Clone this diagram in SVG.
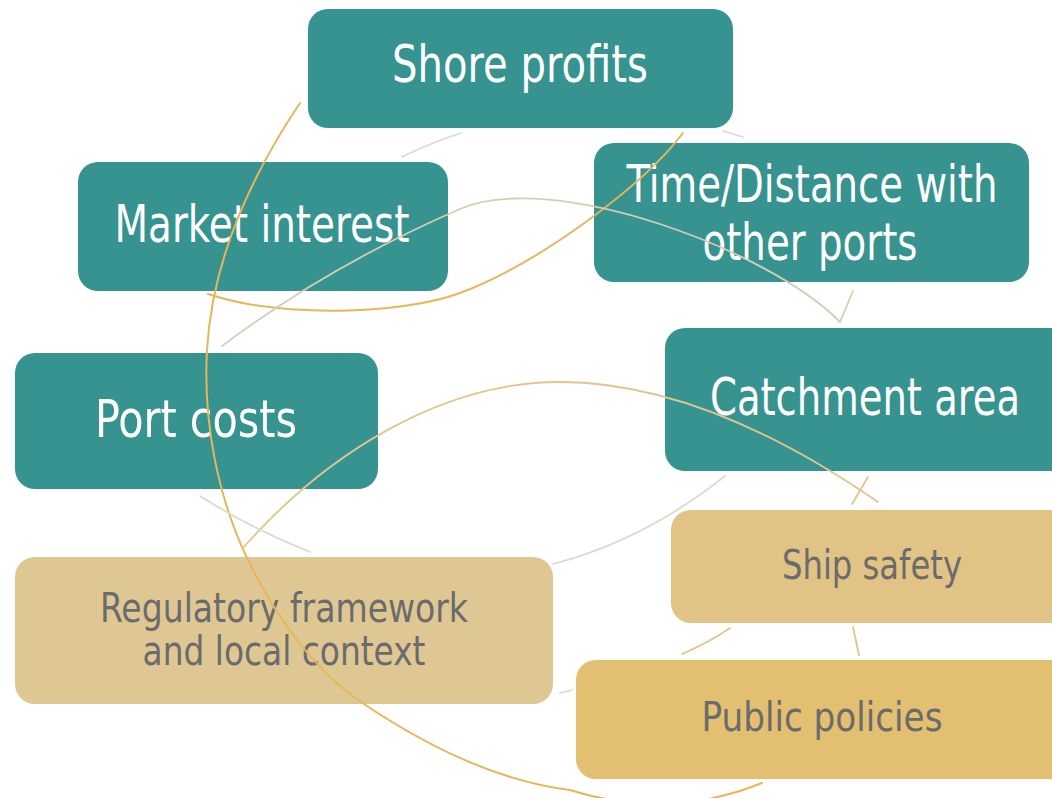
<svg xmlns="http://www.w3.org/2000/svg" width="1052" height="798" viewBox="0 0 1052 798">
  <style>
    .teal { fill: #36938f; }
    .sand { fill: #dfc794; }
    .sand2 { fill: #e0c385; }
    .gold { fill: #e3bf72; }
    .lt { font-family: 'Liberation Sans Narrow', 'DejaVu Sans Condensed', 'Liberation Sans', sans-serif; font-size: 51px; fill: #ffffff; text-anchor: middle; }
    .dk { font-family: 'Liberation Sans Narrow', 'DejaVu Sans Condensed', 'Liberation Sans', sans-serif; font-size: 41px; fill: #6b6b6b; text-anchor: middle; }
    .c { fill: none; stroke-linecap: round; }
    .orange { stroke: #e6b65a; stroke-width: 2; }
    .tan { stroke: #e0c58e; stroke-width: 1.8; }
    .beige { stroke: #d8ccb6; stroke-width: 1.8; }
    .grey { stroke: #dcd8d2; stroke-width: 1.8; }
  </style>
  <rect width="1052" height="798" fill="#ffffff"/>

  <g id="shore-profits">
    <rect class="teal" x="308" y="9" width="425" height="119" rx="20"/>
    <text class="lt" x="520" y="82" textLength="256" lengthAdjust="spacingAndGlyphs">Shore profits</text>
  </g>
  <g id="time-distance">
    <rect class="teal" x="594" y="143" width="435" height="139" rx="20"/>
    <text class="lt" x="812" y="202" textLength="371" lengthAdjust="spacingAndGlyphs">Time/Distance with</text>
    <text class="lt" x="810" y="260" textLength="215" lengthAdjust="spacingAndGlyphs">other ports</text>
  </g>
  <g id="market-interest">
    <rect class="teal" x="78" y="162" width="370" height="129" rx="20"/>
    <text class="lt" x="262" y="242" textLength="295" lengthAdjust="spacingAndGlyphs">Market interest</text>
  </g>
  <g id="port-costs">
    <rect class="teal" x="15" y="353" width="363" height="136" rx="20"/>
    <text class="lt" x="196" y="437" textLength="202" lengthAdjust="spacingAndGlyphs">Port costs</text>
  </g>
  <g id="catchment-area">
    <rect class="teal" x="665" y="328" width="420" height="143" rx="20"/>
    <text class="lt" x="865" y="415" textLength="310" lengthAdjust="spacingAndGlyphs">Catchment area</text>
  </g>
  <g id="regulatory-framework">
    <rect class="sand" x="15" y="557" width="538" height="147" rx="20"/>
    <text class="dk" x="284" y="622" textLength="368" lengthAdjust="spacingAndGlyphs">Regulatory framework</text>
    <text class="dk" x="284" y="665" textLength="283" lengthAdjust="spacingAndGlyphs">and local context</text>
  </g>
  <g id="ship-safety">
    <rect class="sand2" x="671" y="510" width="420" height="113" rx="20"/>
    <text class="dk" x="872" y="579" textLength="180" lengthAdjust="spacingAndGlyphs">Ship safety</text>
  </g>
  <g id="public-policies">
    <rect class="gold" x="576" y="660" width="500" height="119" rx="20"/>
    <text class="dk" x="822" y="731" textLength="241" lengthAdjust="spacingAndGlyphs">Public policies</text>
  </g>

  <g id="connectors">
    <!-- large sweep from Shore profits round the left side to Public policies -->
    <path class="c orange" d="M300,103 C251,176 212,262 207,350 C203,420 217,495 247,558 C274,614 313,670 364,704 C425,745 497,781 570,790 C640,812 705,806 762,783"/>
    <!-- Market interest to Shore profits -->
    <path class="c orange" d="M208,294 C280,318 400,315 460,293 C538,264 643,186 683,133"/>
    <!-- Port costs to Catchment area -->
    <path class="c beige" d="M222,346 C294,292 377,245 460,209 C552,169 770,250 840,322"/>
    <path class="c beige" d="M853,291 L840,322"/>
    <!-- Regulatory framework to Ship safety -->
    <path class="c tan" d="M243,548 C325,455 440,382 560,382 C673,382 785,438 878,502"/>
    <path class="c tan" d="M852,504 L868,477"/>
    <!-- short links between neighbouring boxes -->
    <path class="c grey" d="M402,157 Q430,143 461,133"/>
    <path class="c grey" d="M723,131 L743,137"/>
    <path class="c grey" d="M200,496 Q250,528 310,552"/>
    <path class="c grey" d="M553,564 Q645,540 725,476"/>
    <path class="c grey" d="M560,693 L572,690"/>
    <path class="c tan" d="M682,654 Q708,643 730,628"/>
    <path class="c tan" d="M853,627 L859,655"/>
  </g>
</svg>
